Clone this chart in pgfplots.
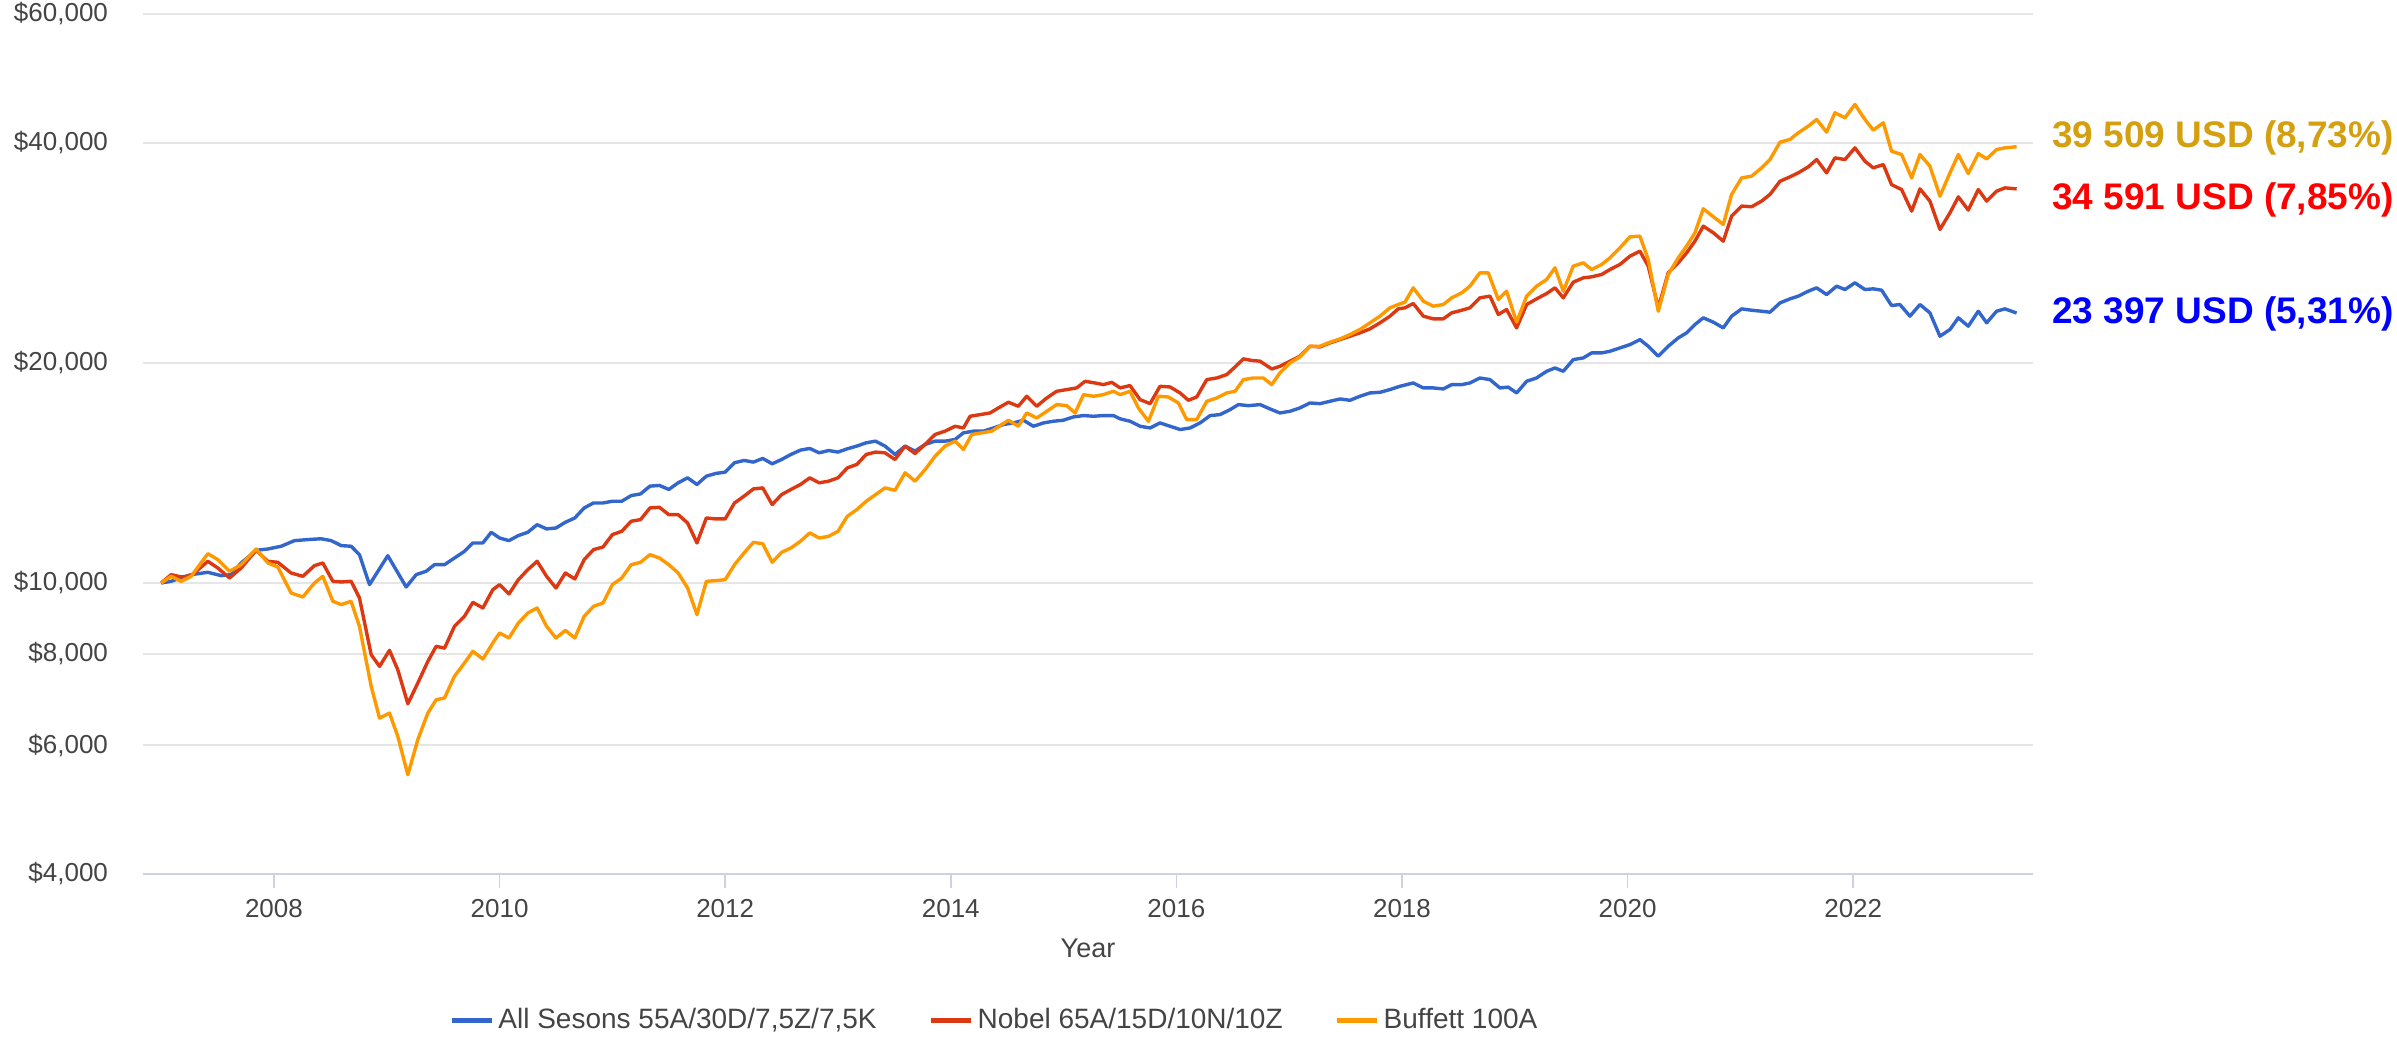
\documentclass[border=0pt]{standalone}
\usepackage{fontspec}
\setmainfont{Liberation Sans}
\usepackage{pgfplots}
\pgfplotsset{compat=1.18}
\definecolor{gblue}{HTML}{3366CC}
\definecolor{gred}{HTML}{DC3912}
\definecolor{gorange}{HTML}{FF9900}
\definecolor{gridc}{HTML}{E6E6E6}
\definecolor{axc}{HTML}{CCD3DE}
\definecolor{txt}{HTML}{444444}
\definecolor{anngold}{HTML}{D4A010}
\begin{document}
\begin{tikzpicture}
\begin{axis}[name=ax, at={(0,0)}, anchor=south west,
  width=945pt, height=430pt, scale only axis,
  ymode=log, ymin=4000, ymax=60000, xmin=2006.839, xmax=2023.594,
  axis x line*=bottom, axis y line*=left,
  y axis line style={draw=none},
  x axis line style={axc, line width=0.9pt},
  ytick={4000,6000,8000,10000,20000,40000,60000},
  yticklabels={{\$4,000},{\$6,000},{\$8,000},{\$10,000},{\$20,000},{\$40,000},{\$60,000}},
  yminorticks=false,
  ytick style={draw=none},
  xtick={2008,2010,2012,2014,2016,2018,2020,2022},
  xticklabels={2008,2010,2012,2014,2016,2018,2020,2022},
  x tick style={axc, line width=0.8pt},
  major tick length=7pt, tick align=outside,
  xticklabel style={font=\fontsize{13}{15}\selectfont, text=txt, yshift=-2pt},
  yticklabel style={font=\fontsize{13}{15}\selectfont, text=txt, xshift=-7pt},
  ymajorgrids, grid style={gridc, line width=0.9pt},
  clip=false,
  legend style={at={(axis description cs:0.451,-0.170)}, anchor=center, draw=none,
    inner sep=1pt,
    font=\fontsize{14}{16}\selectfont, text=txt, legend columns=3,
    /tikz/every even column/.append style={column sep=24pt}},
  legend image code/.code={\draw[#1, line width=2.5pt] (0pt,0pt) -- (20pt,0pt);},
  every axis plot/.append style={line width=1.7pt, line join=round, mark=none}
]
\addplot[gblue] coordinates {
(2007.000,10000)(2007.089,10053)(2007.177,10159)(2007.266,10266)(2007.414,10342)(2007.532,10234)(2007.621,10266)(2007.709,10650)(2007.842,11083)(2007.946,11130)
(2008.064,11226)(2008.182,11427)(2008.300,11464)(2008.418,11494)(2008.507,11427)(2008.596,11249)(2008.684,11226)(2008.758,10933)(2008.847,9948)(2009.009,10898)
(2009.172,9875)(2009.261,10266)(2009.349,10375)(2009.423,10594)(2009.512,10594)(2009.600,10818)(2009.689,11048)(2009.763,11343)(2009.852,11343)(2009.926,11730)
(2010.000,11522)(2010.083,11427)(2010.167,11611)(2010.250,11731)(2010.333,12016)(2010.417,11856)(2010.500,11890)(2010.583,12106)(2010.667,12272)(2010.750,12665)
(2010.833,12866)(2010.917,12866)(2011.000,12934)(2011.083,12934)(2011.167,13168)(2011.250,13237)(2011.333,13565)(2011.417,13595)(2011.500,13424)(2011.583,13708)
(2011.667,13925)(2011.750,13636)(2011.833,13998)(2011.917,14118)(2012.000,14177)(2012.083,14601)(2012.167,14709)(2012.250,14631)(2012.333,14801)(2012.417,14555)
(2012.500,14753)(2012.583,14989)(2012.667,15194)(2012.750,15275)(2012.833,15066)(2012.917,15177)(2013.000,15101)(2013.083,15258)(2013.167,15388)(2013.250,15549)
(2013.333,15631)(2013.417,15388)(2013.506,14989)(2013.595,15388)(2013.683,15146)(2013.772,15468)(2013.861,15631)(2013.949,15631)(2014.038,15713)(2014.112,16044)
(2014.200,16129)(2014.289,16129)(2014.378,16293)(2014.466,16467)(2014.555,16554)(2014.644,16694)(2014.732,16381)(2014.821,16554)(2014.910,16642)(2014.998,16694)
(2015.087,16870)(2015.176,16942)(2015.264,16904)(2015.353,16942)(2015.442,16942)(2015.501,16768)(2015.589,16642)(2015.678,16381)(2015.767,16293)(2015.855,16554)
(2015.944,16381)(2016.033,16211)(2016.121,16293)(2016.210,16554)(2016.299,16942)(2016.387,16993)(2016.476,17262)(2016.550,17538)(2016.639,17480)(2016.742,17538)
(2016.830,17298)(2016.918,17080)(2017.007,17172)(2017.095,17354)(2017.184,17628)(2017.273,17590)(2017.361,17721)(2017.450,17852)(2017.539,17777)(2017.627,18004)
(2017.716,18193)(2017.805,18231)(2017.893,18386)(2017.982,18578)(2018.100,18773)(2018.189,18484)(2018.277,18484)(2018.366,18424)(2018.440,18675)(2018.529,18675)
(2018.602,18773)(2018.691,19071)(2018.780,18972)(2018.868,18484)(2018.942,18530)(2019.016,18193)(2019.105,18872)(2019.193,19071)(2019.282,19478)(2019.356,19683)
(2019.430,19478)(2019.518,20205)(2019.607,20312)(2019.681,20635)(2019.770,20635)(2019.844,20744)(2019.932,20963)(2020.021,21184)(2020.109,21520)(2020.183,21075)
(2020.272,20422)(2020.360,21075)(2020.449,21634)(2020.523,21979)(2020.597,22564)(2020.671,23046)(2020.760,22734)(2020.848,22329)(2020.922,23166)(2021.011,23706)
(2021.099,23603)(2021.188,23530)(2021.262,23457)(2021.351,24155)(2021.439,24462)(2021.513,24674)(2021.602,25061)(2021.676,25329)(2021.764,24799)(2021.853,25458)
(2021.927,25195)(2022.015,25730)(2022.104,25195)(2022.178,25248)(2022.252,25143)(2022.340,23956)(2022.414,24032)(2022.503,23166)(2022.592,24032)(2022.680,23409)
(2022.769,21750)(2022.858,22213)(2022.932,23046)(2023.020,22448)(2023.109,23530)(2023.183,22686)(2023.271,23530)(2023.345,23706)(2023.449,23397)
};
\addlegendentry{All Sesons 55A/30D/7,5Z/7,5K}
\addplot[gred] coordinates {
(2007.000,10000)(2007.089,10266)(2007.177,10191)(2007.266,10234)(2007.414,10706)(2007.502,10484)(2007.606,10159)(2007.709,10484)(2007.842,11083)(2007.946,10706)
(2008.034,10673)(2008.152,10320)(2008.256,10212)(2008.359,10561)(2008.433,10650)(2008.522,10053)(2008.596,10031)(2008.684,10053)(2008.758,9539)(2008.862,7980)
(2008.936,7691)(2009.024,8089)(2009.098,7608)(2009.187,6837)(2009.275,7297)(2009.364,7813)(2009.438,8192)(2009.512,8145)(2009.600,8723)(2009.689,9004)
(2009.763,9409)(2009.852,9243)(2009.940,9792)
(2010.000,9948)(2010.083,9660)(2010.167,10105)(2010.250,10428)(2010.333,10706)(2010.417,10212)(2010.500,9843)(2010.583,10320)(2010.667,10127)(2010.750,10763)
(2010.833,11108)(2010.917,11199)(2011.000,11645)(2011.083,11767)(2011.167,12146)(2011.250,12209)(2011.333,12665)(2011.417,12691)(2011.500,12402)(2011.583,12402)
(2011.667,12080)(2011.750,11343)(2011.833,12272)(2011.917,12234)(2012.000,12234)(2012.083,12866)(2012.167,13141)(2012.250,13446)(2012.333,13490)(2012.417,12801)
(2012.500,13208)(2012.583,13424)(2012.667,13636)(2012.750,13925)(2012.833,13708)(2012.917,13780)(2013.000,13925)(2013.083,14368)(2013.167,14525)(2013.250,14989)
(2013.333,15101)(2013.417,15066)(2013.506,14753)(2013.595,15388)(2013.683,15034)(2013.772,15468)(2013.861,15961)(2013.949,16129)(2014.038,16381)(2014.112,16293)
(2014.171,16904)(2014.260,16993)(2014.348,17080)(2014.422,17354)(2014.511,17667)(2014.599,17445)(2014.673,18004)(2014.762,17445)(2014.851,17909)(2014.939,18289)
(2015.028,18386)(2015.116,18484)(2015.190,18872)(2015.279,18773)(2015.353,18675)(2015.427,18813)(2015.501,18484)(2015.589,18620)(2015.678,17814)(2015.767,17590)
(2015.855,18578)(2015.944,18540)(2016.033,18193)(2016.106,17777)(2016.180,17963)(2016.269,18972)(2016.358,19071)(2016.446,19275)(2016.520,19745)(2016.594,20253)
(2016.668,20151)(2016.742,20105)(2016.845,19619)(2016.918,19788)(2017.007,20105)(2017.095,20422)(2017.184,21075)(2017.273,21027)(2017.361,21297)(2017.450,21520)
(2017.539,21750)(2017.627,21979)(2017.716,22261)(2017.805,22686)(2017.893,23166)(2017.967,23706)(2018.026,23782)(2018.100,24108)(2018.189,23166)(2018.277,22973)
(2018.366,22973)(2018.440,23409)(2018.529,23603)(2018.602,23782)(2018.691,24544)(2018.780,24674)(2018.854,23286)(2018.927,23659)(2019.016,22329)(2019.105,24032)
(2019.193,24462)(2019.282,24878)(2019.356,25329)(2019.430,24544)(2019.518,25784)(2019.607,26137)(2019.681,26221)(2019.770,26416)(2019.844,26834)(2019.932,27262)
(2020.021,27985)(2020.109,28431)(2020.183,27118)(2020.272,23782)(2020.360,26556)(2020.449,27406)(2020.523,28281)(2020.597,29341)(2020.671,30762)(2020.760,30123)
(2020.848,29341)(2020.922,31750)(2021.011,32767)(2021.099,32699)(2021.188,33286)(2021.262,33991)(2021.351,35434)(2021.439,35925)(2021.513,36383)(2021.602,37077)
(2021.676,37940)(2021.764,36383)(2021.838,38141)(2021.927,37940)(2022.015,39362)(2022.104,37740)(2022.178,36958)(2022.267,37349)(2022.340,35060)(2022.429,34517)
(2022.518,32251)(2022.592,34589)(2022.680,33286)(2022.769,30445)(2022.858,32081)(2022.932,33729)(2023.020,32357)(2023.109,34517)(2023.183,33286)(2023.271,34336)
(2023.345,34702)(2023.449,34591)
};
\addlegendentry{Nobel 65A/15D/10N/10Z}
\addplot[gorange] coordinates {
(2007.000,10000)(2007.089,10212)(2007.177,10053)(2007.266,10212)(2007.414,10967)(2007.502,10763)(2007.606,10375)(2007.709,10594)(2007.842,11130)(2007.946,10650)
(2008.034,10517)(2008.152,9690)(2008.256,9568)(2008.359,10000)(2008.433,10212)(2008.522,9439)(2008.596,9341)(2008.684,9439)(2008.758,8723)(2008.862,7221)
(2008.936,6535)(2009.024,6639)(2009.098,6169)(2009.187,5466)(2009.275,6105)(2009.364,6639)(2009.438,6925)(2009.512,6962)(2009.600,7454)(2009.689,7775)
(2009.763,8064)(2009.852,7871)(2009.940,8277)
(2010.000,8543)(2010.083,8409)(2010.167,8816)(2010.250,9097)(2010.333,9243)(2010.417,8723)(2010.500,8409)(2010.583,8614)(2010.667,8409)(2010.750,9004)
(2010.833,9291)(2010.917,9389)(2011.000,9948)(2011.083,10158)(2011.167,10594)(2011.250,10673)(2011.333,10933)(2011.417,10818)(2011.500,10594)(2011.583,10320)
(2011.667,9843)(2011.750,9051)(2011.833,10053)(2011.917,10074)(2012.000,10105)(2012.083,10594)(2012.167,10990)(2012.250,11364)(2012.333,11317)(2012.417,10673)
(2012.500,11013)(2012.583,11166)(2012.667,11402)(2012.750,11707)(2012.833,11522)(2012.917,11582)(2013.000,11767)(2013.083,12337)(2013.167,12600)(2013.250,12934)
(2013.333,13208)(2013.417,13490)(2013.506,13391)(2013.595,14148)(2013.683,13780)(2013.772,14289)(2013.861,14906)(2013.949,15388)(2014.038,15631)(2014.112,15225)
(2014.186,15961)(2014.274,16044)(2014.363,16129)(2014.437,16411)(2014.511,16694)(2014.599,16381)(2014.673,17080)(2014.762,16811)(2014.851,17172)(2014.939,17538)
(2015.028,17480)(2015.102,17080)(2015.176,18096)(2015.264,18004)(2015.353,18096)(2015.442,18289)(2015.501,18096)(2015.589,18289)(2015.663,17354)(2015.752,16642)
(2015.841,18004)(2015.929,17963)(2016.018,17628)(2016.092,16729)(2016.180,16729)(2016.269,17721)(2016.358,17909)(2016.446,18193)(2016.520,18289)(2016.594,18972)
(2016.683,19071)(2016.771,19071)(2016.845,18675)(2016.918,19382)(2017.007,19999)(2017.095,20380)(2017.184,21075)(2017.273,21075)(2017.361,21340)(2017.450,21567)
(2017.539,21864)(2017.627,22213)(2017.716,22686)(2017.805,23166)(2017.893,23782)(2017.967,24032)(2018.026,24210)(2018.100,25329)(2018.189,24284)(2018.277,23906)
(2018.366,24032)(2018.440,24544)(2018.529,24930)(2018.602,25458)(2018.691,26556)(2018.765,26556)(2018.854,24411)(2018.927,25061)(2019.016,22734)(2019.105,24674)
(2019.193,25458)(2019.282,26002)(2019.356,26975)(2019.430,25061)(2019.518,27118)(2019.607,27406)(2019.681,26834)(2019.770,27262)(2019.844,27837)(2019.932,28732)
(2020.021,29744)(2020.109,29807)(2020.183,27691)(2020.272,23530)(2020.360,26416)(2020.449,27837)(2020.523,28884)(2020.597,30123)(2020.671,32488)(2020.760,31684)
(2020.848,30926)(2020.922,33991)(2021.011,35810)(2021.099,36000)(2021.188,36958)(2021.262,37940)(2021.351,40070)(2021.439,40412)(2021.513,41270)(2021.602,42144)
(2021.676,43038)(2021.764,41357)(2021.838,43957)(2021.927,43268)(2022.015,45120)(2022.104,43038)(2022.178,41615)(2022.267,42592)(2022.340,38949)(2022.429,38548)
(2022.518,35810)(2022.592,38548)(2022.680,37154)(2022.769,33806)(2022.858,36383)(2022.932,38548)(2023.020,36308)(2023.109,38664)(2023.183,38019)(2023.271,39155)
(2023.345,39362)(2023.449,39509)
};
\addlegendentry{Buffett 100A}
\node[font=\fontsize{13.5}{16}\selectfont, text=txt] at (axis description cs:0.5,-0.086) {Year};
\node[anchor=west, inner sep=0pt, font=\fontsize{18.5}{22}\selectfont\bfseries, text=anngold] at (axis description cs:1.010,0.856) {39 509 USD (8,73\%)};
\node[anchor=west, inner sep=0pt, font=\fontsize{18.5}{22}\selectfont\bfseries, text=red] at (axis description cs:1.010,0.784) {34 591 USD (7,85\%)};
\node[anchor=west, inner sep=0pt, font=\fontsize{18.5}{22}\selectfont\bfseries, text=blue] at (axis description cs:1.010,0.651) {23 397 USD (5,31\%)};
\end{axis}
\pgfresetboundingbox
\path (-71.5pt,-84.5pt) rectangle (1127pt,437pt);
\end{tikzpicture}
\end{document}
